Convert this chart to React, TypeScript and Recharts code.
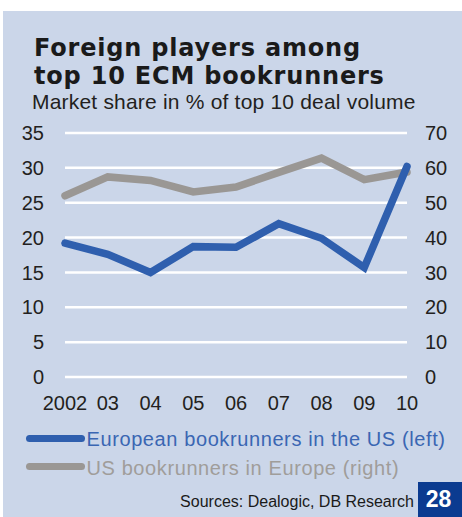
import { CartesianGrid, Line, LineChart, XAxis, YAxis } from 'recharts';

const years = ['2002', '03', '04', '05', '06', '07', '08', '09', '10'];
const europeanInUs = [19.2, 17.6, 15.0, 18.7, 18.6, 22.0, 19.9, 15.7, 30.2];
const usInEurope = [52.0, 57.4, 56.4, 53.1, 54.5, 58.7, 62.8, 56.6, 58.8];
const leftTicks = [0, 5, 10, 15, 20, 25, 30, 35];
const rightTicks = [0, 10, 20, 30, 40, 50, 60, 70];

const data = years.map((year, i) => ({
    year,
    eu: europeanInUs[i],
    us: usInEurope[i],
}));

const BLUE = '#2f5fae';
const GREY = '#9a9794';
const BG = '#cbd6e9';
const FONT = '"Liberation Sans", Arial, sans-serif';

const tickStyle = { fill: '#231f20', fontSize: 20, fontFamily: FONT };

const titleStyle = {
    position: 'absolute' as const,
    left: 34,
    height: 26,
    fontFamily: '"DejaVu Sans", sans-serif',
    fontWeight: 'bold' as const,
    fontSize: 24,
    lineHeight: '26px',
    letterSpacing: 0.8,
    color: '#1a1a1a',
    whiteSpace: 'nowrap' as const,
};

const legendText = {
    position: 'absolute' as const,
    left: 86.5,
    fontFamily: FONT,
    fontSize: 20,
    lineHeight: '20px',
    letterSpacing: 0.6,
    whiteSpace: 'nowrap' as const,
};

export default function App() {
    return (
        <div style={{ position: 'absolute', left: 0, top: 0, width: 462, height: 517, background: '#fff' }}>
            <div style={{ position: 'absolute', left: 3, top: 11, right: 0, bottom: 0, background: BG }} />
            <div style={{ ...titleStyle, top: 34.5 }}>Foreign players among</div>
            <div style={{ ...titleStyle, top: 63 }}>top 10 ECM bookrunners</div>
            <div
                style={{
                    position: 'absolute',
                    left: 32,
                    top: 90.5,
                    fontFamily: FONT,
                    fontSize: 21,
                    lineHeight: '21px',
                    letterSpacing: 0.2,
                    color: '#231f20',
                    whiteSpace: 'nowrap',
                }}
            >
                Market share in % of top 10 deal volume
            </div>
            <div style={{ position: 'absolute', left: 0, top: 0 }}>
                <LineChart width={462} height={420} data={data} margin={{ top: 133, right: 0, bottom: 0, left: 0 }}>
                    <CartesianGrid yAxisId="left" vertical={false} stroke="#ffffff" strokeWidth={2.5} />
                    <XAxis
                        dataKey="year"
                        height={43}
                        axisLine={false}
                        tickLine={false}
                        tickMargin={13}
                        tick={tickStyle}
                        interval={0}
                    />
                    <YAxis
                        yAxisId="left"
                        width={65}
                        domain={[0, 35]}
                        ticks={leftTicks}
                        axisLine={false}
                        tickLine={false}
                        tickMargin={15}
                        tick={tickStyle}
                    />
                    <YAxis
                        yAxisId="right"
                        orientation="right"
                        width={55}
                        domain={[0, 70]}
                        ticks={rightTicks}
                        axisLine={false}
                        tickLine={false}
                        tickMargin={12}
                        tick={tickStyle}
                    />
                    <Line
                        yAxisId="right"
                        dataKey="us"
                        stroke={GREY}
                        strokeWidth={7.5}
                        strokeLinecap="round"
                        dot={false}
                        activeDot={false}
                        isAnimationActive={false}
                    />
                    <Line
                        yAxisId="left"
                        dataKey="eu"
                        stroke={BLUE}
                        strokeWidth={7.5}
                        strokeLinecap="round"
                        dot={false}
                        activeDot={false}
                        isAnimationActive={false}
                    />
                </LineChart>
            </div>
            <div style={{ position: 'absolute', left: 26, top: 435, width: 59, height: 7, borderRadius: 4, background: BLUE }} />
            <div style={{ position: 'absolute', left: 26, top: 463, width: 59, height: 7, borderRadius: 4, background: GREY }} />
            <div style={{ ...legendText, top: 429, color: '#3a66b3' }}>European bookrunners in the US (left)</div>
            <div style={{ ...legendText, top: 457.5, color: '#a09d9a' }}>US bookrunners in Europe (right)</div>
            <div
                style={{
                    position: 'absolute',
                    left: 0,
                    width: 414,
                    top: 493.5,
                    textAlign: 'right',
                    fontFamily: FONT,
                    fontSize: 16,
                    lineHeight: '16px',
                    color: '#1a1a1a',
                    whiteSpace: 'nowrap',
                }}
            >
                Sources: Dealogic, DB Research
            </div>
            <div
                style={{
                    position: 'absolute',
                    left: 418,
                    top: 482,
                    width: 44,
                    height: 35,
                    background: '#0b3b90',
                    color: '#fff',
                    fontFamily: FONT,
                    fontWeight: 'bold',
                    fontSize: 23,
                    lineHeight: '35px',
                    textAlign: 'center',
                    paddingRight: 3,
                    boxSizing: 'border-box',
                }}
            >
                28
            </div>
        </div>
    );
}
